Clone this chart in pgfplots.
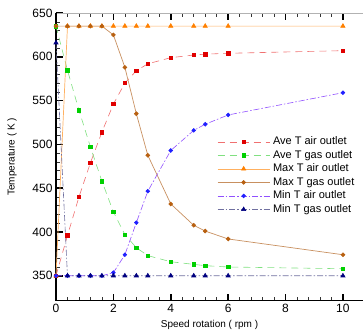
\documentclass[border=0pt]{standalone}
\usepackage{fontspec}
\setmainfont{Liberation Sans}
\usepackage{pgfplots}
\pgfplotsset{compat=1.18}
\definecolor{mAveAir}{HTML}{E00000}\definecolor{lAveAir}{HTML}{F07070}
\definecolor{mAveGas}{HTML}{00D000}\definecolor{lAveGas}{HTML}{80E080}
\definecolor{mMaxAir}{HTML}{FF8000}\definecolor{lMaxAir}{HTML}{FFB060}
\definecolor{mMaxGas}{HTML}{B86010}\definecolor{lMaxGas}{HTML}{C89060}
\definecolor{mMinAir}{HTML}{2020FF}\definecolor{lMinAir}{HTML}{9050FF}
\definecolor{mMinGas}{HTML}{000080}\definecolor{lMinGas}{HTML}{7070A0}
\begin{document}
\begin{tikzpicture}
\begin{axis}[name=ax,
  scale only axis, width=307pt, height=287.7pt,
  xmin=0, xmax=10.7, ymin=321.5, ymax=650,
  axis x line*=box, axis y line*=left,
  xtick={0,2,4,6,8,10}, ytick={350,400,...,650},
  minor x tick num=4, minor y tick num=4,
  tick align=inside,
  major tick length=7pt, minor tick length=4pt,
  major tick style={black, line width=1.6pt},
  minor tick style={black!80, line width=0.5pt},
  x axis line style={gray!60, line width=0.8pt},
  y axis line style={black, line width=1.6pt},
  tick label style={font=\fontsize{12}{14}\selectfont},
  /pgf/number format/assume math mode=true,
  xlabel={Speed rotation ( rpm )}, ylabel={Temperature ( K )},
  label style={font=\fontsize{11}{13}\selectfont},
  every axis x label/.style={at={(axis description cs:0.5,-0.0845)}, anchor=center},
  every axis y label/.style={at={(axis description cs:-0.143,0.5)}, anchor=center, rotate=90},
  legend cell align=left,
  legend style={at={(axis description cs:0.515,0.583)}, anchor=north west, draw=none, fill=none,
    font=\fontsize{11}{13}\selectfont,
    nodes={text height=8pt, text depth=2.5pt, inner ysep=1.5pt, inner xsep=3pt}, row sep=0pt},
  legend image code/.code={\draw[mark repeat=2,mark phase=2] plot coordinates {(0pt,0pt) (26pt,0pt) (52pt,0pt)};},
]
\addplot[lAveAir, line width=0.6pt, dash pattern=on 7pt off 5pt, mark=square*, mark size=1.7pt, mark options={solid, fill=mAveAir, draw=mAveAir}]
 coordinates {(0,350) (0.4,396) (0.8,440) (1.2,479) (1.6,514) (2,546) (2.4,570) (2.8,584) (3.2,592) (4,599) (4.8,602) (5.2,603) (6,604) (10,607)};
\addlegendentry{Ave T air outlet}
\addplot[lAveGas, line width=0.6pt, dash pattern=on 7pt off 5pt, mark=square*, mark size=1.7pt, mark options={solid, fill=mAveGas, draw=mAveGas}]
 coordinates {(0,635) (0.4,584.6) (0.8,539) (1.2,497) (1.6,458) (2,423) (2.4,397) (2.8,382) (3.2,373) (4,366) (4.8,363) (5.2,361.5) (6,360) (10,358)};
\addlegendentry{Ave T gas outlet}
\addplot[lMaxAir, line width=0.7pt, mark=triangle*, mark size=2.4pt, mark options={solid, fill=mMaxAir, draw=mMaxAir}]
 coordinates {(0,350) (0.4,635) (0.8,635) (1.2,635) (1.6,635) (2,635) (2.4,635) (2.8,635) (3.2,635) (4,635) (4.8,635) (5.2,635) (6,635) (10,635)};
\addlegendentry{Max T air outlet}
\addplot[lMaxGas, line width=0.7pt, mark=*, mark size=1.9pt, mark options={solid, fill=mMaxGas, draw=mMaxGas}]
 coordinates {(0,635) (0.4,635) (0.8,635) (1.2,635) (1.6,635) (2,625) (2.4,588) (2.8,535) (3.2,487.5) (4,432) (4.8,407.6) (5.2,401) (6,392) (10,374)};
\addlegendentry{Max T gas outlet}
\addplot[lMinAir, line width=0.6pt, dash pattern=on 6pt off 2pt on 1.5pt off 2pt, mark=*, mark size=1.9pt, mark options={solid, fill=mMinAir, draw=mMinAir}]
 coordinates {(0,350) (0.4,350) (0.8,350) (1.2,350) (1.6,350) (2,353.5) (2.4,374) (2.8,410.6) (3.2,446.5) (4,493) (4.8,516) (5.2,523) (6,533.6) (10,559)};
\addlegendentry{Min T air outlet}
\addplot[lMinGas, line width=0.6pt, dash pattern=on 6pt off 2pt on 1.5pt off 2pt, mark=triangle*, mark size=2.4pt, mark options={solid, fill=mMinGas, draw=mMinGas}]
 coordinates {(0,616) (0.4,350) (0.8,350) (1.2,350) (1.6,350) (2,350) (2.4,350) (2.8,350) (3.2,350) (4,350) (4.8,350) (5.2,350) (6,350) (10,350)};
\addlegendentry{Min T gas outlet}
\draw[black, line width=1.6pt] (rel axis cs:0,0) -- (rel axis cs:1,0);
\end{axis}
\pgfresetboundingbox
\path[use as bounding box] ([xshift=-56pt,yshift=-33.3pt]ax.south west) rectangle ([yshift=13pt]ax.north east);
\end{tikzpicture}
\end{document}
